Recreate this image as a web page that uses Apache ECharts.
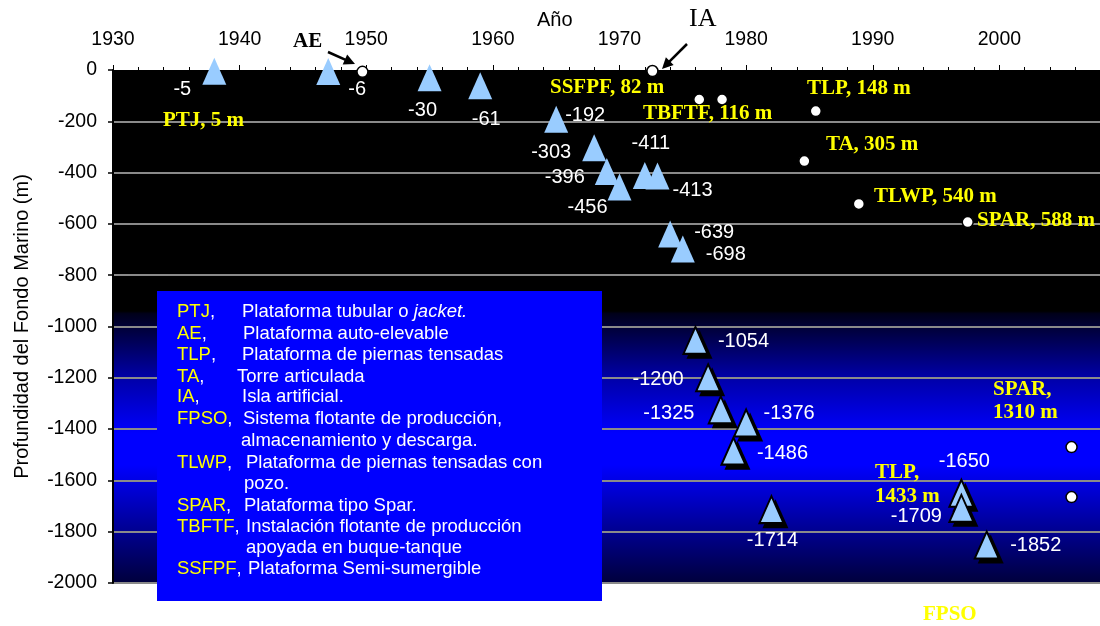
<!DOCTYPE html>
<html>
<head>
<meta charset="utf-8">
<script src="https://cdn.jsdelivr.net/npm/echarts@6/dist/echarts.min.js"></script>
<style>
  html, body { margin: 0; padding: 0; background: #fff; }
  #chart { width: 1100px; height: 626px; }
</style>
</head>
<body>
<div id="chart"></div>
<script>
// platform records: year installed and water depth (m)
const platformYears = [1938, 1947, 1955, 1959, 1965, 1968, 1969, 1970, 1972, 1973, 1974,
  1975, 1976, 1977, 1978, 1980, 1979, 1982, 1997, 1997, 1999]
const platformDepths = [-5, -6, -30, -61, -192, -303, -396, -456, -411, -413, -639,
  -698, -1054, -1200, -1325, -1376, -1486, -1714, -1650, -1709, -1852]

// first installation of each platform type (white dots)
const firstYears = [1949.7, 1972.6, 1976.3, 1978.1, 1985.5, 1984.6, 1988.9, 1997.5, 2005.7, 2005.7]
const firstDepths = [-7, -4, -115, -115, -160, -355, -522, -593, -1470, -1665]

// where each depth label sits relative to its triangle (px)
const labelOffsets = [[-32, 18], [29, 18], [-7, 33], [6, 34], [29, -4], [-43, 5], [-42, 6],
  [-32, 21], [6, -32], [35, 15], [44, -1], [43, 5], [48, 1], [-50, 2], [-52, 4], [43, -9],
  [49, 2], [1, 31], [3, -32], [-45, 8], [49, 0]]

const legendRows = [
  ['PTJ', '{n|Plataforma tubular o }{i|jacket.}', 242, 312],
  ['AE', '{n|Plataforma auto-elevable}', 243, 334],
  ['TLP', '{n|Plataforma de piernas tensadas}', 242, 355],
  ['TA', '{n|Torre articulada}', 237, 377],
  ['IA', '{n|Isla artificial.}', 242, 397],
  ['FPSO', '{n|Sistema flotante de producción,}', 243, 419],
  ['', '{n|almacenamiento y descarga.}', 241, 441],
  ['TLWP', '{n|Plataforma de piernas tensadas con}', 246, 463],
  ['', '{n|pozo.}', 244, 484],
  ['SPAR', '{n|Plataforma tipo Spar.}', 244, 506],
  ['TBFTF', '{n|Instalación flotante de producción}', 246, 527],
  ['', '{n|apoyada en buque-tanque}', 246, 548],
  ['SSFPF', '{n|Plataforma Semi-sumergible}', 248, 569]
]

const yellowNotes = [
  ['PTJ, 5 m', 163, 121],
  ['SSFPF, 82 m', 550, 88],
  ['TBFTF, 116 m', 643, 114],
  ['TLP, 148 m', 807, 89],
  ['TA, 305 m', 826, 145],
  ['TLWP, 540 m', 874, 197],
  ['SPAR, 588 m', 977, 221],
  ['SPAR,', 993, 390],
  ['1310 m', 993, 413],
  ['TLP,', 875, 473],
  ['1433 m', 875, 497],
  ['FPSO', 923, 615]
]

const sans = 'Liberation Sans, Arial, sans-serif'
const serif = 'Liberation Serif, Times New Roman, serif'

function arrow(x1, y1, x2, y2) {
  const dx = x2 - x1
  const dy = y2 - y1
  const len = Math.sqrt(dx * dx + dy * dy)
  const ux = dx / len
  const uy = dy / len
  const hl = 11
  const hw = 5.5
  const bx = x2 - ux * hl
  const by = y2 - uy * hl
  return [
    {
      type: 'line',
      shape: { x1: x1, y1: y1, x2: bx + ux * 2, y2: by + uy * 2 },
      style: { stroke: '#000', lineWidth: 2.5 }
    },
    {
      type: 'polygon',
      shape: { points: [[x2, y2], [bx - uy * hw, by + ux * hw], [bx + uy * hw, by - ux * hw]] },
      style: { fill: '#000' }
    }
  ]
}

const graphics = []

graphics.push({
  type: 'text',
  x: 537, y: 20,
  style: { text: 'Año', font: '20px ' + sans, fill: '#000', verticalAlign: 'middle' }
})

graphics.push({
  type: 'rect',
  shape: { x: 157, y: 291, width: 445, height: 310 },
  style: { fill: '#0000ff' },
  z: 10
})

legendRows.forEach((r) => {
  if (r[0]) {
    graphics.push({
      type: 'text', x: 177, y: r[3], z: 11,
      style: {
        text: '{a|' + r[0] + '}{w|,}',
        verticalAlign: 'middle',
        rich: {
          a: { fill: '#ffff00', font: '18.5px ' + sans },
          w: { fill: '#fff', font: '18.5px ' + sans }
        }
      }
    })
  }
  graphics.push({
    type: 'text', x: r[2], y: r[3], z: 11,
    style: {
      text: r[1],
      verticalAlign: 'middle',
      rich: {
        n: { fill: '#fff', font: '18.5px ' + sans },
        i: { fill: '#fff', font: 'italic 18.5px ' + sans }
      }
    }
  })
})

yellowNotes.forEach((n) => {
  graphics.push({
    type: 'text', x: n[1], y: n[2], z: 12,
    style: { text: n[0], fill: '#ffff00', font: 'bold 21px ' + serif, verticalAlign: 'middle' }
  })
})

graphics.push({
  type: 'text', x: 293, y: 42, z: 12,
  style: { text: 'AE', fill: '#000', font: 'bold 21px ' + serif, verticalAlign: 'middle' }
})
graphics.push({
  type: 'text', x: 689, y: 19, z: 12,
  style: { text: 'IA', fill: '#000', font: '26px ' + serif, verticalAlign: 'middle' }
})
arrow(328, 52, 355, 64).forEach((g) => { g.z = 12; graphics.push(g) })
arrow(687, 44, 662, 69).forEach((g) => { g.z = 12; graphics.push(g) })

const platformData = platformYears.map((y, i) => [y, platformDepths[i]])
// outline + shadow only show up on the blue (deep) part of the plot
const isDeep = (d) => d < -900

const chart = echarts.init(document.getElementById('chart'), null, { renderer: 'canvas' })

chart.setOption({
  animation: false,
  backgroundColor: '#fff',
  grid: {
    left: 113,
    top: 70,
    right: -26,
    bottom: 43,
    outerBoundsMode: 'none',
    containLabel: false,
    show: true,
    borderWidth: 0,
    backgroundColor: new echarts.graphic.LinearGradient(0, 0, 0, 1, [
      { offset: 0, color: '#000000' },
      { offset: 0.47, color: '#000000' },
      { offset: 0.475, color: '#00001a' },
      { offset: 0.6, color: '#0000a8' },
      { offset: 0.71, color: '#0000ff' },
      { offset: 0.77, color: '#0000ff' },
      { offset: 0.88, color: '#0000a0' },
      { offset: 1, color: '#00003c' }
    ])
  },
  xAxis: {
    type: 'value',
    position: 'top',
    min: 1930,
    max: 2010,
    interval: 10,
    axisLine: { show: true, lineStyle: { color: '#000', width: 1 } },
    axisTick: { show: true, length: 5, lineStyle: { color: '#000', width: 1 } },
    minorTick: { show: true, splitNumber: 5, length: 3, lineStyle: { color: '#000', width: 1 } },
    axisLabel: {
      color: '#000', fontSize: 19.5, fontFamily: sans, margin: 20,
      formatter: (v) => String(v)
    },
    splitLine: { show: false }
  },
  yAxis: {
    type: 'value',
    min: -2000,
    max: 0,
    interval: 200,
    name: 'Profundidad del Fondo Marino (m)',
    nameLocation: 'middle',
    nameGap: 81,
    nameTextStyle: { color: '#000', fontSize: 20, fontFamily: sans },
    axisLine: { show: true, lineStyle: { color: '#000', width: 2 } },
    axisTick: { show: true, length: 5, lineStyle: { color: '#000', width: 1.5 } },
    axisLabel: {
      color: '#000', fontSize: 19.5, fontFamily: sans, margin: 16,
      formatter: (v) => String(v)
    },
    splitLine: { show: true, showMaxLine: false, lineStyle: { color: '#8a8a8a', width: 2 } }
  },
  graphic: { elements: graphics },
  series: [
    {
      // drop shadow under each deep-water triangle
      name: 'Sombra',
      type: 'scatter',
      symbol: 'triangle',
      symbolSize: [26, 29],
      symbolOffset: [4, 4],
      z: 2,
      silent: true,
      itemStyle: { color: '#000', opacity: 1 },
      emphasis: { disabled: true },
      data: platformData.filter((d) => isDeep(d[1]))
    },
    {
      name: 'Plataformas',
      type: 'scatter',
      symbol: 'triangle',
      symbolSize: [24, 27],
      z: 3,
      itemStyle: {
        color: '#99ccff',
        opacity: 1
      },
      label: {
        show: true,
        position: 'inside',
        color: '#fff',
        fontSize: 20,
        fontFamily: sans,
        formatter: (p) => String(p.value[1])
      },
      emphasis: { disabled: true },
      data: platformData.map((d, i) => ({
        value: d,
        itemStyle: isDeep(d[1]) ? { borderColor: '#000', borderWidth: 2 } : { borderWidth: 0 },
        label: { offset: labelOffsets[i] }
      }))
    },
    {
      name: 'Primera instalación',
      type: 'scatter',
      symbol: 'circle',
      symbolSize: 11,
      z: 4,
      itemStyle: { color: '#fff', opacity: 1, borderColor: '#000', borderWidth: 1.5 },
      emphasis: { disabled: true },
      data: firstYears.map((y, i) => [y, firstDepths[i]])
    }
  ]
})
</script>
</body>
</html>
